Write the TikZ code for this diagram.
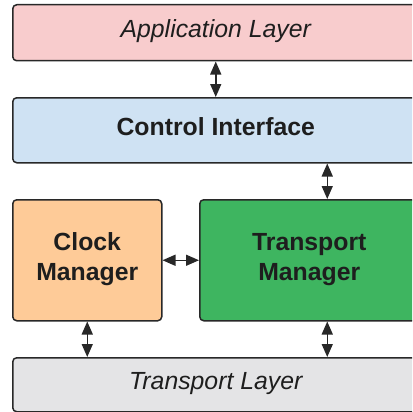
\documentclass[tikz,border=0pt]{standalone}
\usepackage{fontspec}
\setmainfont{Liberation Sans}
\usetikzlibrary{positioning, arrows.meta}
\definecolor{edge}{RGB}{40, 40, 40}
\definecolor{txt}{RGB}{30, 30, 30}
\definecolor{appfill}{RGB}{248, 204, 205}
\definecolor{ctrlfill}{RGB}{207, 226, 243}
\definecolor{clockfill}{RGB}{254, 203, 152}
\definecolor{tmfill}{RGB}{62, 181, 96}
\definecolor{tlfill}{RGB}{228, 228, 230}

\begin{document}
\begin{tikzpicture}[x=1pt, y=-1pt,
    box/.style={draw=edge, line width=1.5pt, rounded corners=4pt, anchor=north west,
                inner sep=0pt, align=center, text=txt, text depth=7pt},
    layer/.style={box, font=\fontsize{24.8}{30}\selectfont\itshape, text height=17pt},
    block/.style={box, font=\fontsize{24.8}{30}\selectfont\bfseries},
    biarrow/.style={{Triangle[length=13pt,width=11pt]}-{Triangle[length=13pt,width=11pt]},
                    line width=1.5pt, draw=edge}]
        \useasboundingbox (0,0) rectangle (412,412);
        \clip (0,0) rectangle (412,412);
        % layers and blocks
        \node[layer, fill=appfill, minimum width=406pt, minimum height=56pt] (app) at (12,4) {Application Layer};
        \node[block, fill=ctrlfill, minimum width=406pt, minimum height=65pt, text height=17pt] (ci) at (12,97) {Control Interface};
        \node[block, fill=clockfill, minimum width=149pt, minimum height=121pt] (clock) at (12,199) {Clock\\Manager};
        \node[block, fill=tmfill, minimum width=219pt, minimum height=121pt] (tm) at (199,199) {Transport\\Manager};
        \node[layer, fill=tlfill, minimum width=406pt, minimum height=54pt] (tl) at (12,357) {Transport Layer};
        % connectors
        \draw[biarrow] (app.south) -- (ci.north);
        \draw[biarrow] ([xshift=18pt]tm.north |- ci.south) -- ([xshift=18pt]tm.north);
        \draw[biarrow] (clock.east) -- (tm.west);
        \draw[biarrow] (clock.south) -- (clock.south |- tl.north);
        \draw[biarrow] ([xshift=18pt]tm.south) -- ([xshift=18pt]tm.south |- tl.north);
    \end{tikzpicture}
\end{document}
